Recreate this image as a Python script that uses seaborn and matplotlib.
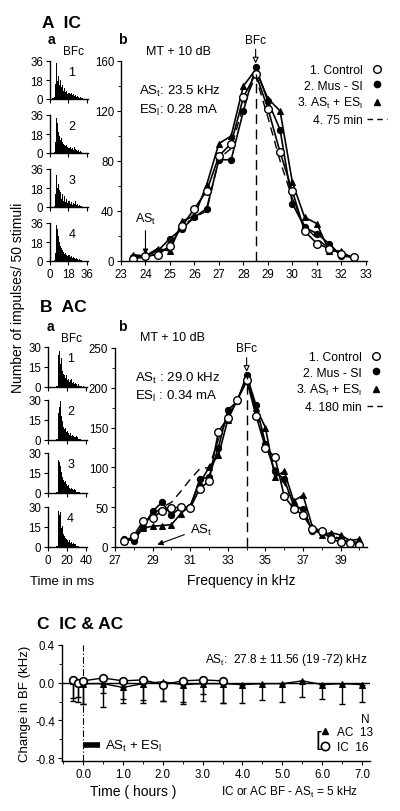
import numpy as np
import pandas as pd
import seaborn as sns
from matplotlib import pyplot as plt
from matplotlib.lines import Line2D
from matplotlib.ticker import MultipleLocator

# ---- data ----
# PST histograms, 1 ms bins
hist_bins_a = np.arange(0, 37)
hist_a1 = [0, 0, 1, 1, 2, 14, 34, 17, 22, 13, 18, 11, 13, 8, 10, 7, 8, 5, 6, 5, 6, 4, 5, 3, 4, 2, 3, 2, 1, 2, 1, 1, 0, 0, 0, 0]
hist_a2 = [0, 0, 0, 0, 1, 10, 33, 28, 20, 16, 12, 14, 10, 9, 8, 7, 8, 6, 5, 6, 4, 5, 3, 6, 4, 3, 2, 3, 1, 2, 1, 0, 0, 0, 0, 0]
hist_a3 = [0, 0, 0, 0, 1, 12, 30, 18, 22, 16, 14, 8, 12, 6, 10, 5, 8, 4, 6, 3, 5, 2, 4, 3, 6, 2, 3, 1, 2, 1, 1, 0, 0, 0, 0, 0]
hist_a4 = [0, 0, 0, 0, 1, 8, 34, 30, 24, 18, 14, 12, 10, 9, 7, 8, 6, 5, 6, 4, 5, 3, 4, 3, 2, 3, 2, 1, 2, 1, 1, 0, 0, 0, 0, 0]

hist_bins_b = np.arange(0, 41)
hist_b1 = [0, 0, 0, 0, 0, 0, 0, 0, 1, 1, 6, 24, 27, 17, 22, 12, 10, 9, 7, 9, 5, 6, 4, 5, 6, 3, 4, 2, 3, 2, 2, 1, 2, 1, 1, 1, 0, 1, 0, 0]
hist_b2 = [0, 0, 0, 0, 0, 0, 0, 0, 1, 1, 8, 20, 25, 29, 18, 14, 10, 8, 9, 6, 7, 5, 4, 5, 3, 4, 3, 2, 2, 3, 1, 2, 1, 1, 1, 0, 0, 0, 0, 0]
hist_b3 = [0, 0, 0, 0, 0, 0, 0, 0, 1, 1, 5, 25, 23, 20, 16, 12, 10, 8, 9, 7, 5, 6, 4, 3, 4, 3, 2, 3, 2, 1, 2, 1, 1, 1, 0, 0, 0, 0, 0, 0]
hist_b4 = [0, 0, 0, 0, 0, 0, 0, 0, 1, 1, 6, 27, 24, 26, 14, 16, 10, 8, 7, 6, 5, 4, 5, 3, 4, 2, 3, 2, 2, 1, 1, 1, 1, 0, 0, 0, 0, 0, 0, 0]

# IC frequency tuning (impulses / 50 stimuli)
freq_a = [23.5, 24, 24.5, 25, 25.5, 26, 26.5, 27, 27.5, 28, 28.5, 29, 29.5, 30, 30.5, 31, 31.5, 32, 32.5]
ctrl_a = [2, 4, 5, 12, 28, 42, 56, 84, 94, 131, 150, 122, 87, 56, 24, 14, 10, 6, 3]
mus_a = [3, 4, 8, 18, 26, 35, 42, 81, 81, 120, 155, 128, 105, 46, 27, 22, 14, 4, 3]
stim_a = [5, 4, 10, 8, 32, 36, 61, 94, 100, 140, 153, 130, 120, 63, 35, 30, 8, 8, 1]
late_a = [2, 3, 6, 12, 28, 35, 40, 82, 90, 125, 148, 115, 80, 50, 28, 18, 10, 6, 3]
bfc_a = 28.5
ast_a = 24.0

# AC frequency tuning
freq_b = [27.5, 28, 28.5, 29, 29.5, 30, 30.5, 31, 31.5, 32, 32.5, 33, 33.5, 34, 34.5, 35, 35.5, 36, 36.5, 37, 37.5, 38, 38.5, 39, 39.5, 40]
ctrl_b = [7, 14, 33, 37, 45, 49, 50, 49, 73, 83, 145, 162, 185, 210, 165, 125, 113, 64, 48, 40, 22, 20, 10, 6, 5, 3]
mus_b = [10, 8, 25, 45, 56, 40, 50, 50, 85, 88, 125, 172, 183, 216, 178, 130, 95, 85, 52, 48, 20, 18, 12, 10, 6, 4]
stim_b = [8, 10, 24, 26, 27, 28, 42, 52, 80, 100, 115, 160, 185, 208, 175, 150, 88, 95, 58, 65, 25, 15, 18, 15, 8, 10]
late_b = [8, 12, 28, 40, 50, 56, 70, 85, 98, 100, 135, 165, 185, 212, 170, 130, 100, 80, 55, 45, 25, 20, 15, 10, 8, 5]
bfc_b = 34.0
ast_b = 29.0

# BF shift over time
time_ac = [-0.25, -0.12, 0.0, 0.5, 1.0, 1.5, 2.0, 2.5, 3.0, 3.5, 4.0, 4.5, 5.0, 5.5, 6.0, 6.5, 7.0]
shift_ac = [0.02, 0.0, -0.01, -0.01, -0.05, -0.01, 0.01, -0.02, -0.01, -0.01, -0.02, -0.01, -0.01, 0.02, -0.02, -0.01, -0.02]
err_ac = [0.18, 0.15, 0.22, 0.25, 0.16, 0.20, 0.20, 0.21, 0.18, 0.21, 0.19, 0.17, 0.19, 0.17, 0.15, 0.22, 0.18]
time_ic = [-0.25, -0.12, 0.0, 0.5, 1.0, 1.5, 2.0, 2.5, 3.0, 3.5]
shift_ic = [0.03, 0.0, 0.02, 0.05, 0.02, 0.03, -0.02, 0.02, 0.03, 0.02]
err_ic = [0.22, 0.20, 0.25, 0.16, 0.19, 0.21, 0.17, 0.22, 0.15, 0.23]
stim_start, stim_end = 0.0, 0.43

# ---- style ----
sns.set_style('ticks')
plt.rcParams['font.family'] = ['Liberation Sans', 'DejaVu Sans']
plt.rcParams['mathtext.default'] = 'regular'
for key in ['text.color', 'axes.labelcolor', 'axes.edgecolor', 'xtick.color', 'ytick.color']:
    plt.rcParams[key] = 'black'
plt.rcParams['axes.linewidth'] = 1.0
plt.rcParams['xtick.major.size'] = 3
plt.rcParams['ytick.major.size'] = 3
plt.rcParams['xtick.minor.size'] = 2
plt.rcParams['ytick.minor.size'] = 2
plt.rcParams['xtick.labelsize'] = 8.3
plt.rcParams['ytick.labelsize'] = 8.3
plt.rcParams['xtick.major.pad'] = 2
plt.rcParams['ytick.major.pad'] = 2

W, H = 400, 812
fig = plt.figure(figsize=(W / 100, H / 100), dpi=100)


def px_axes(left, top, right, bottom):
    return fig.add_axes([left / W, 1 - bottom / H, (right - left) / W, (bottom - top) / H])


def histo(ax, bins, counts, ymax, num, show_x):
    df = pd.DataFrame({'t': bins[:-1] + 0.5, 'n': counts})
    sns.histplot(data=df, x='t', weights='n', bins=[float(b) for b in bins], ax=ax,
                 color='black', alpha=1, linewidth=0)
    ax.set_xlim(bins[0], bins[-1] + 1)
    ax.set_ylim(0, ymax)
    ax.set_yticks([0, ymax / 2, ymax])
    ax.set_yticklabels(['0', f'{ymax // 2}', f'{ymax}'])
    ax.set_xticks([bins[0], (bins[-1]) / 2, bins[-1]])
    if show_x:
        ax.set_xticklabels([f'{bins[0]}', f'{bins[-1] // 2}', f'{bins[-1]}'])
    else:
        ax.set_xticklabels([])
    ax.set_xlabel('')
    ax.set_ylabel('')
    ax.text(0.58, 0.72, num, transform=ax.transAxes, fontsize=9, ha='center', va='center')
    sns.despine(ax=ax)


def tuning(ax, freq, ctrl, mus, stim, late):
    sns.lineplot(x=freq, y=late, ax=ax, color='black', lw=1.0, linestyle=(0, (6, 4)))
    sns.lineplot(x=freq, y=stim, ax=ax, color='black', lw=1.2, marker='^', ms=4.5, mec='black')
    sns.lineplot(x=freq, y=mus, ax=ax, color='black', lw=1.2, marker='o', ms=4.5, mec='black')
    sns.lineplot(x=freq, y=ctrl, ax=ax, color='black', lw=1.2, marker='o', ms=5.5,
                 mfc='white', mec='black', mew=1.0)
    sns.despine(ax=ax)


def curve_legend(ax, late_label, anchor):
    handles = [Line2D([], [], ls='none', marker='o', ms=5.5, mfc='white', mec='black'),
               Line2D([], [], ls='none', marker='o', ms=4.5, color='black'),
               Line2D([], [], ls='none', marker='^', ms=4.5, color='black'),
               Line2D([], [], color='black', lw=1.0, ls=(0, (4, 3)))]
    labels = ['1. Control', '2. Mus - SI', '3. AS$_t$ + ES$_l$', late_label]
    ax.legend(handles, labels, loc='upper right', bbox_to_anchor=anchor, frameon=False,
              markerfirst=False, fontsize=8.7, handlelength=1.6, handletextpad=0.4,
              labelspacing=0.3, borderpad=0, borderaxespad=0)


# ---- Panel A ----
fig.text(42 / W, 1 - 23 / H, 'A  IC', fontsize=12.5, fontweight='bold', va='center')
fig.text(48 / W, 1 - 40 / H, 'a', fontsize=10, fontweight='bold', va='center')
fig.text(118 / W, 1 - 40 / H, 'b', fontsize=10, fontweight='bold', va='center')
fig.text(74 / W, 1 - 52 / H, 'BFc', fontsize=8.5, ha='center', va='center')

for i, (counts, top) in enumerate(zip([hist_a1, hist_a2, hist_a3, hist_a4], [62, 116, 170, 224])):
    ax = px_axes(50, top, 88, top + 38)
    histo(ax, hist_bins_a, counts, 36, str(i + 1), i == 3)

axA = px_axes(121, 62, 367, 262)
tuning(axA, freq_a, ctrl_a, mus_a, stim_a, late_a)
axA.vlines(bfc_a, 0, max(ctrl_a), color='black', lw=1.0, linestyle=(0, (7, 4)))
axA.set_xlim(23, 33.05)
axA.set_ylim(0, 160)
axA.set_xticks(range(23, 34))
axA.yaxis.set_major_locator(MultipleLocator(40))
axA.yaxis.set_minor_locator(MultipleLocator(20))
axA.annotate('BFc', xy=(bfc_a, 158), xytext=(bfc_a, 172), ha='center', va='bottom', fontsize=8.5,
             annotation_clip=False,
             arrowprops=dict(arrowstyle='-|>', fc='white', ec='black', lw=0.8, mutation_scale=9,
                             shrinkA=0, shrinkB=0))
axA.annotate('AS$_t$', xy=(ast_a, 5), xytext=(ast_a, 28), ha='center', va='bottom', fontsize=9,
             arrowprops=dict(arrowstyle='-|>', fc='black', ec='black', lw=0.8, mutation_scale=8,
                             shrinkA=1, shrinkB=0))
axA.text(0.1, 1.05, 'MT + 10 dB', transform=axA.transAxes, fontsize=9, va='center')
axA.text(0.073, 0.855, 'AS$_t$: 23.5 kHz', transform=axA.transAxes, fontsize=9.5, va='center')
axA.text(0.073, 0.76, 'ES$_l$: 0.28 mA', transform=axA.transAxes, fontsize=9.5, va='center')
curve_legend(axA, '4. 75 min', (1.08, 0.985))

# ---- Panel B ----
fig.text(40 / W, 1 - 308 / H, 'B  AC', fontsize=12.5, fontweight='bold', va='center')
fig.text(47 / W, 1 - 327 / H, 'a', fontsize=10, fontweight='bold', va='center')
fig.text(118 / W, 1 - 327 / H, 'b', fontsize=10, fontweight='bold', va='center')
fig.text(72 / W, 1 - 339 / H, 'BFc', fontsize=8.5, ha='center', va='center')

for i, (counts, top) in enumerate(zip([hist_b1, hist_b2, hist_b3, hist_b4], [348, 401, 454, 508])):
    ax = px_axes(48, top, 87, top + 40)
    histo(ax, hist_bins_b, counts, 30, str(i + 1), i == 3)

axB = px_axes(115, 349, 367, 548)
tuning(axB, freq_b, ctrl_b, mus_b, stim_b, late_b)
axB.vlines(bfc_b, 0, max(mus_b), color='black', lw=1.0, linestyle=(0, (7, 4)))
axB.set_xlim(27, 40.4)
axB.set_ylim(0, 250)
axB.set_xticks(range(27, 41, 2))
axB.xaxis.set_minor_locator(MultipleLocator(1))
axB.yaxis.set_major_locator(MultipleLocator(50))
axB.yaxis.set_minor_locator(MultipleLocator(25))
axB.annotate('BFc', xy=(bfc_b, 220), xytext=(bfc_b, 242), ha='center', va='bottom', fontsize=8.5,
             annotation_clip=False,
             arrowprops=dict(arrowstyle='-|>', fc='white', ec='black', lw=0.8, mutation_scale=9,
                             shrinkA=0, shrinkB=0))
axB.annotate('AS$_t$', xy=(ast_b + 0.25, 3), xytext=(31.0, 22), ha='left', va='center', fontsize=9.5,
             arrowprops=dict(arrowstyle='-|>', fc='black', ec='black', lw=0.8, mutation_scale=8,
                             shrinkA=2, shrinkB=0, relpos=(0, 0.3)))
axB.text(0.1, 1.055, 'MT + 10 dB', transform=axB.transAxes, fontsize=9, va='center')
axB.text(0.08, 0.854, 'AS$_t$ : 29.0 kHz', transform=axB.transAxes, fontsize=9.5, va='center')
axB.text(0.08, 0.764, 'ES$_l$ : 0.34 mA', transform=axB.transAxes, fontsize=9.5, va='center')
axB.set_xlabel('Frequency in kHz', fontsize=10, labelpad=5)
curve_legend(axB, '4. 180 min', (1.075, 0.985))

fig.text(62 / W, 1 - 582 / H, 'Time in ms', fontsize=9.5, ha='center', va='center')
fig.text(18 / W, 1 - 298 / H, 'Number of impulses/ 50 stimuli', fontsize=10, rotation=90,
         ha='center', va='center')

# ---- Panel C ----
fig.text(37 / W, 1 - 625 / H, 'C  IC & AC', fontsize=12.5, fontweight='bold', va='center')
axC = px_axes(62, 646, 370, 762)
axC.axhline(0, color='black', lw=1.0)
axC.axvline(0, color='black', lw=0.8, linestyle=(0, (6, 2, 1, 2)))
axC.errorbar(time_ac, shift_ac, yerr=[err_ac, np.zeros(len(err_ac))], fmt='none',
             ecolor='black', elinewidth=1.0, capsize=2.5, capthick=1.0)
axC.errorbar(time_ic, shift_ic, yerr=[err_ic, np.zeros(len(err_ic))], fmt='none',
             ecolor='black', elinewidth=1.0, capsize=2.5, capthick=1.0)
sns.lineplot(x=time_ac, y=shift_ac, ax=axC, color='black', lw=1.0, marker='^', ms=4.5, mec='black')
sns.lineplot(x=time_ic, y=shift_ic, ax=axC, color='black', lw=1.0, marker='o', ms=5.5,
             mfc='white', mec='black', mew=1.2)
axC.hlines(-0.66, stim_start, stim_end, color='black', lw=4)
axC.text(stim_end + 0.12, -0.66, 'AS$_t$ + ES$_l$', fontsize=9.5, va='center')
axC.set_xlim(-0.53, 7.2)
axC.set_ylim(-0.83, 0.4)
axC.set_xticks(np.arange(0, 7.5, 1.0))
axC.set_xticklabels([f'{t:.1f}' for t in np.arange(0, 7.5, 1.0)])
axC.xaxis.set_minor_locator(MultipleLocator(0.5))
axC.set_yticks([-0.8, -0.4, 0.0, 0.4])
axC.set_yticklabels(['-0.8', '-0.4', '0.0', '0.4'])
axC.yaxis.set_minor_locator(MultipleLocator(0.2))
axC.set_ylabel('Change in BF (kHz)', fontsize=9.5, labelpad=3)
axC.text(0.464, 0.88, 'AS$_t$:  27.8 ± 11.56 (19 -72) kHz', transform=axC.transAxes,
         fontsize=8.5, va='center')
c_handles = [Line2D([], [], ls='none', marker='^', ms=5, color='black'),
             Line2D([], [], ls='none', marker='o', ms=6, mfc='white', mec='black', mew=1.2)]
axC.legend(c_handles, ['AC  13', 'IC  16'], loc='center right',
           bbox_to_anchor=(1.01, 0.185), frameon=False, fontsize=8.5,
           handlelength=0.8, handletextpad=0.6, labelspacing=0.2, borderpad=0,
           borderaxespad=0)
axC.text(1.0, 0.36, 'N', transform=axC.transAxes, fontsize=8.5, va='center', ha='right')
axC.text(0.834, 0.185, '[', transform=axC.transAxes, fontsize=15, va='center', ha='center',
         fontweight='light')
sns.despine(ax=axC)

fig.text(133 / W, 1 - 792 / H, 'Time ( hours )', fontsize=10, ha='center', va='center')
fig.text(290 / W, 1 - 792 / H, 'IC or AC BF - AS$_t$ = 5 kHz', fontsize=8.5, ha='center', va='center')

fig.savefig('out.png', dpi=100)
